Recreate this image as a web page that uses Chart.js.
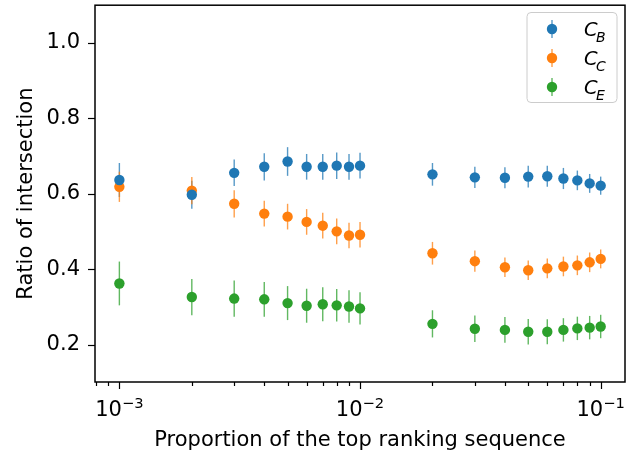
<!DOCTYPE html>
<html>
<head>
<meta charset="utf-8">
<script src="https://cdn.jsdelivr.net/npm/chart.js@4"></script>
<style>
  html, body { margin: 0; padding: 0; background: #fff; }
  #wrap { width: 639px; height: 456px; }
</style>
</head>
<body>
<div id="wrap"><canvas id="chart" width="639" height="456"></canvas></div>
<script>
// proportions of the top ranking sequence
const xValues = [0.001, 0.002, 0.003, 0.004, 0.005, 0.006, 0.007, 0.008, 0.009, 0.01,
                 0.02, 0.03, 0.04, 0.05, 0.06, 0.07, 0.08, 0.09, 0.1];

// ratio of intersection
const cB = [0.637, 0.598, 0.656, 0.672, 0.686, 0.672, 0.672, 0.675, 0.672, 0.675,
            0.652, 0.644, 0.643, 0.646, 0.647, 0.641, 0.636, 0.628, 0.622];
const cC = [0.619, 0.609, 0.574, 0.548, 0.540, 0.526, 0.516, 0.501, 0.490, 0.492,
            0.443, 0.422, 0.406, 0.398, 0.403, 0.408, 0.411, 0.419, 0.428];
const cE = [0.363, 0.327, 0.323, 0.321, 0.311, 0.304, 0.308, 0.305, 0.302, 0.297,
            0.256, 0.243, 0.240, 0.235, 0.235, 0.240, 0.244, 0.246, 0.249];

// error bar half-widths
const errB = [0.045, 0.037, 0.035, 0.036, 0.038, 0.034, 0.034, 0.035, 0.034, 0.034,
              0.030, 0.028, 0.028, 0.029, 0.028, 0.028, 0.026, 0.025, 0.024];
const errC = [0.040, 0.036, 0.036, 0.034, 0.034, 0.034, 0.034, 0.034, 0.034, 0.034,
              0.030, 0.028, 0.026, 0.026, 0.026, 0.026, 0.026, 0.026, 0.025];
const errE = [0.058, 0.048, 0.048, 0.046, 0.045, 0.045, 0.045, 0.043, 0.043, 0.043,
              0.036, 0.035, 0.034, 0.034, 0.033, 0.031, 0.031, 0.031, 0.031];

const seriesNames = ['B', 'C', 'E'];
const seriesColors = ['#1f77b4', '#ff7f0e', '#2ca02c'];

const xTickValues = [0.0008, 0.0009, 0.001, 0.002, 0.003, 0.004, 0.005, 0.006, 0.007, 0.008, 0.009,
                     0.01, 0.02, 0.03, 0.04, 0.05, 0.06, 0.07, 0.08, 0.09, 0.1];
const xMajorExp = { '0.001': '\u22123', '0.01': '\u22122', '0.1': '\u22121' };
const yTickValues = [0.2, 0.4, 0.6, 0.8, 1.0];

const FONT = 'DejaVu Sans';
const FS = 21;

function isMajor(v) {
    return xMajorExp[String(v)] !== undefined;
}

const allY = [cB, cC, cE];
const allErr = [errB, errC, errE];

// error bars under the markers
const errorBars = {
    id: 'errorBars',
    beforeDatasetsDraw(chart) {
        const ctx = chart.ctx;
        const xs = chart.scales.x, ys = chart.scales.y;
        ctx.save();
        ctx.lineWidth = 1.4;
        ctx.globalAlpha = 0.75;
        allY.forEach((vals, i) => {
            ctx.strokeStyle = seriesColors[i];
            vals.forEach((v, j) => {
                const px = xs.getPixelForValue(xValues[j]);
                ctx.beginPath();
                ctx.moveTo(px, ys.getPixelForValue(v - allErr[i][j]));
                ctx.lineTo(px, ys.getPixelForValue(v + allErr[i][j]));
                ctx.stroke();
            });
        });
        ctx.restore();
    }
};

// frame, tick marks, 10^n labels and legend drawn matplotlib style
const frameAndLegend = {
    id: 'frameAndLegend',
    afterDraw(chart) {
        const ctx = chart.ctx;
        const a = chart.chartArea;
        const xs = chart.scales.x, ys = chart.scales.y;
        ctx.save();
        ctx.strokeStyle = '#000';
        ctx.lineWidth = 1.5;
        ctx.strokeRect(a.left, a.top, a.right - a.left, a.bottom - a.top);

        ctx.lineWidth = 1.2;
        xTickValues.forEach(v => {
            const px = Math.round(xs.getPixelForValue(v)) + 0.5;
            const len = isMajor(v) ? 7 : 4;
            ctx.beginPath();
            ctx.moveTo(px, a.bottom);
            ctx.lineTo(px, a.bottom + len);
            ctx.stroke();
        });
        yTickValues.forEach(v => {
            const py = Math.round(ys.getPixelForValue(v)) + 0.5;
            ctx.beginPath();
            ctx.moveTo(a.left, py);
            ctx.lineTo(a.left - 7, py);
            ctx.stroke();
        });

        // x tick labels as 10 with a raised exponent
        ctx.fillStyle = '#000';
        ctx.textBaseline = 'alphabetic';
        ctx.textAlign = 'left';
        xTickValues.filter(isMajor).forEach(v => {
            const px = xs.getPixelForValue(v);
            const exp = xMajorExp[String(v)];
            ctx.font = FS + 'px "' + FONT + '"';
            const wBase = ctx.measureText('10').width;
            ctx.font = (FS * 0.7) + 'px "' + FONT + '"';
            const wExp = ctx.measureText(exp).width;
            const x0 = px - (wBase + wExp) / 2;
            ctx.font = FS + 'px "' + FONT + '"';
            ctx.fillText('10', x0, 415.7);
            ctx.font = (FS * 0.7) + 'px "' + FONT + '"';
            ctx.fillText(exp, x0 + wBase, 408);
        });

        // legend box
        const lx = 527, ly = 12.5, lw = 90, lh = 90, r = 4;
        ctx.beginPath();
        ctx.moveTo(lx + r, ly);
        ctx.arcTo(lx + lw, ly, lx + lw, ly + lh, r);
        ctx.arcTo(lx + lw, ly + lh, lx, ly + lh, r);
        ctx.arcTo(lx, ly + lh, lx, ly, r);
        ctx.arcTo(lx, ly, lx + lw, ly, r);
        ctx.closePath();
        ctx.fillStyle = 'rgba(255,255,255,0.8)';
        ctx.fill();
        ctx.strokeStyle = '#cccccc';
        ctx.lineWidth = 1;
        ctx.stroke();

        seriesNames.forEach((name, i) => {
            const cy = 29 + i * 29;
            ctx.globalAlpha = 0.75;
            ctx.strokeStyle = seriesColors[i];
            ctx.lineWidth = 1.4;
            ctx.beginPath();
            ctx.moveTo(552, cy - 9);
            ctx.lineTo(552, cy + 9);
            ctx.stroke();
            ctx.globalAlpha = 1;
            ctx.fillStyle = seriesColors[i];
            ctx.beginPath();
            ctx.arc(552, cy, 5.2, 0, Math.PI * 2);
            ctx.fill();

            ctx.fillStyle = '#000';
            ctx.font = 'italic 19.5px "' + FONT + '"';
            ctx.fillText('C', 584, cy + 7);
            const wC = ctx.measureText('C').width;
            ctx.font = 'italic 14px "' + FONT + '"';
            ctx.fillText(name, 584 + wC - 1.5, cy + 12.5);
        });
        ctx.restore();
    }
};

const datasets = allY.map((vals, i) => ({
    label: 'C' + seriesNames[i],
    data: vals.map((v, j) => ({ x: xValues[j], y: v })),
    backgroundColor: seriesColors[i],
    borderWidth: 0,
    pointRadius: 5.2,
    pointHoverRadius: 5.2
}));

new Chart(document.getElementById('chart').getContext('2d'), {
    type: 'scatter',
    data: { datasets: datasets },
    options: {
        responsive: false,
        animation: false,
        events: [],
        layout: { padding: { top: 4.5, right: 14, left: 0, bottom: 0 } },
        plugins: {
            legend: { display: false },
            tooltip: { enabled: false }
        },
        scales: {
            x: {
                type: 'logarithmic',
                min: 0.000792,
                max: 0.1262,
                afterBuildTicks: scale => {
                    scale.ticks = xTickValues.map(v => ({ value: v, major: isMajor(v) }));
                },
                afterFit: scale => {
                    scale.height = 74;
                    scale.paddingLeft = 0;
                    scale.paddingRight = 0;
                },
                grid: { display: false, drawTicks: false },
                border: { display: false },
                ticks: {
                    autoSkip: false,
                    maxRotation: 0,
                    color: '#000',
                    font: { family: FONT, size: FS },
                    callback: () => ''
                },
                title: {
                    display: true,
                    text: 'Proportion of the top ranking sequence',
                    color: '#000',
                    font: { family: FONT, size: FS },
                    padding: { top: 0, bottom: 3 }
                }
            },
            y: {
                type: 'linear',
                min: 0.102,
                max: 1.1,
                afterBuildTicks: scale => {
                    scale.ticks = yTickValues.map(v => ({ value: v }));
                },
                afterFit: scale => {
                    scale.width = 95;
                    scale.paddingTop = 0;
                    scale.paddingBottom = 0;
                },
                grid: { display: false, drawTicks: false },
                border: { display: false },
                ticks: {
                    padding: 15,
                    color: '#000',
                    font: { family: FONT, size: FS },
                    callback: v => v.toFixed(1)
                },
                title: {
                    display: true,
                    text: 'Ratio of intersection',
                    color: '#000',
                    font: { family: FONT, size: FS },
                    padding: { top: 14, bottom: 0 }
                }
            }
        }
    },
    plugins: [errorBars, frameAndLegend]
});
</script>
</body>
</html>
